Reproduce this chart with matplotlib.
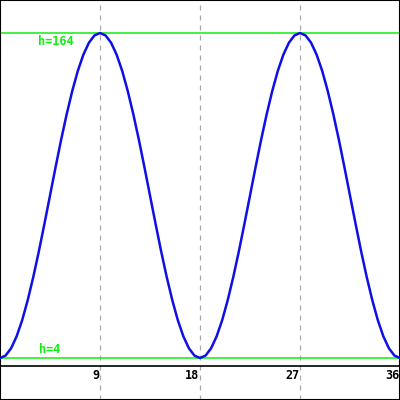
import matplotlib
matplotlib.use('Agg')
import matplotlib.pyplot as plt

# sampled height, one point every 0.5
x = [i * 0.5 for i in range(73)]
half = [4.0, 5.2, 8.8, 14.7, 22.7, 32.6, 44.0, 56.6, 70.1, 84.0,
        97.9, 111.4, 124.0, 135.4, 145.3, 153.3, 159.2, 162.8, 164.0,
        162.8, 159.2, 153.3, 145.3, 135.4, 124.0, 111.4, 97.9, 84.0,
        70.1, 56.6, 44.0, 32.6, 22.7, 14.7, 8.8, 5.2]
h = half + half + [4.0]

xticks = [9, 18, 27, 36]
h_max = 164
h_min = 4

fig = plt.figure(figsize=(4, 4), dpi=100)
ax = fig.add_axes([0, 0, 1, 1])

for t in xticks:
    ax.axvline(t, color='#aaaaaa', lw=0.9, dashes=(4, 4), zorder=1)

ax.axhline(0, color='black', lw=1.2, zorder=2)
ax.axhline(h_max, color='#11ee11', lw=1.1, zorder=2)
ax.axhline(h_min, color='#11ee11', lw=1.1, zorder=2)

ax.plot(x, h, color='#0f0fe6', lw=1.8, zorder=3)

hfont = {'family': 'DejaVu Sans Mono', 'fontweight': 'bold', 'size': 8.5}
for t in xticks:
    ax.text(t - 0.05, -1.3, str(t), ha='right', va='top', color='black', **hfont)

ax.text(3.45, h_max - 1.2, 'h=%d' % h_max, ha='left', va='top', color='#11ee11', **hfont)
ax.text(3.55, h_min + 0.9, 'h=%d' % h_min, ha='left', va='bottom', color='#11ee11', **hfont)

ax.set_xlim(0, 36)
ax.set_ylim(-16.67, 180.25)
ax.set_xticks([])
ax.set_yticks([])
for s in ax.spines.values():
    s.set_color('black')
    s.set_linewidth(1.5)

plt.savefig('out.png', dpi=100)
